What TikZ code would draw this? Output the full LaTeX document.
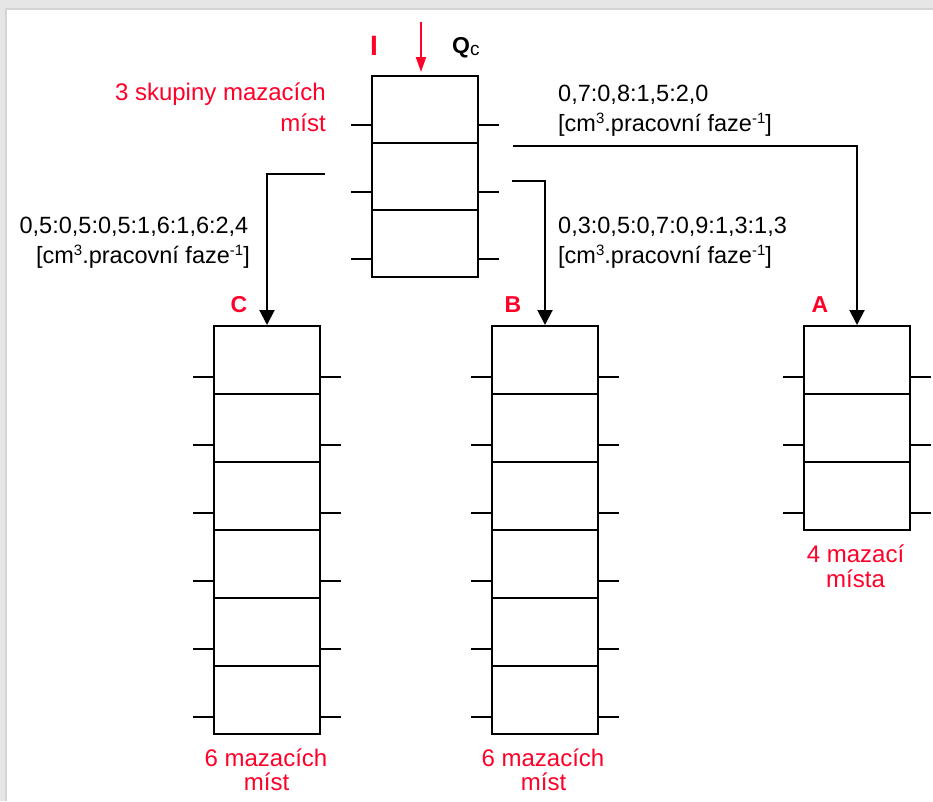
\documentclass[tikz,border=0pt]{standalone}
\usepackage{fontspec}
\setmainfont{Liberation Sans}
\usetikzlibrary{arrows.meta}
\definecolor{lblred}{RGB}{255,0,40}
\definecolor{framegray}{RGB}{230,230,230}
\definecolor{frameedge}{RGB}{212,212,212}
% small raised index (cm^3, faze^-1)
\newcommand\upidx[1]{\raisebox{8.5pt}{\fontsize{15}{15}\selectfont #1}}
\newcommand\unitline{[cm\upidx{3}.pracovní faze\upidx{-1}]}

\begin{document}
\begin{tikzpicture}[x=1pt,y=-1pt,
  cell/.style={draw, line width=2pt, minimum width=106pt, inner sep=0pt},
  tick/.style={line width=2pt},
  feed/.style={line width=2pt, -{Triangle[width=15pt,length=15pt]}},
  redfeed/.style={draw=lblred, line width=2pt, shorten >=3pt,
    -{Triangle[width=10pt,length=15pt]}, lblred},
  txt/.style={inner sep=0pt, font=\fontsize{23.5}{28}\selectfont},
  redtxt/.style={inner sep=0pt, text=lblred, font=\fontsize{24}{28}\selectfont},
  tag/.style={inner sep=0pt, text=lblred, font=\bfseries\fontsize{23}{28}\selectfont},
]
% page frame
\useasboundingbox (0,0) rectangle (933,801);
\fill[framegray] (0,0) rectangle (933,801);
\fill[frameedge] (5,8) rectangle (933,801);
\fill[white] (7,10) rectangle (933,801);

% distributor blocks, one node per cell, with side ticks
% (name / centre x / top / cells / cell height / tick offset below centre)
\foreach \col/\x/\top/\n/\h/\t in {I/425/76/3/67/15.5, C/267/326/6/68/17, B/545/326/6/68/17, A/857/326/3/68/17}{
  \foreach \k in {1,...,\n}{
    \node[cell, minimum height=\h pt] (\col\k) at (\x, {\top + (\k-0.5)*\h}) {};
    \draw[tick] ([yshift=-\t pt]\col\k.west) -- ++(-20,0);
    \draw[tick] ([yshift=-\t pt]\col\k.east) -- ++(20,0);
  }
}

% feed lines to the secondary blocks
\coordinate (outA) at (513,146);
\coordinate (outB) at (512,181);
\coordinate (outC) at (325,174);
\draw[feed] (outA) -| (A1.north);
\draw[feed] (outB) -| (B1.north);
\draw[feed] (outC) -| (C1.north);

% lubricant inlet
\coordinate (qin) at (421,22);
\draw[redfeed] (qin) -- (qin |- I1.north);
\node[inner sep=0pt, text=lblred, font=\bfseries\fontsize{28}{30}\selectfont, anchor=base] (ti) at (374,55) {I};
\node[inner sep=0pt, anchor=base west, font=\bfseries\fontsize{23}{28}\selectfont] (tq) at (452,53)
  {Q\raisebox{-2pt}{\mdseries\fontsize{19}{20}\selectfont c}};

% block labels
\node[tag, anchor=base] (tagC) at (239,312) {C};
\node[tag, anchor=base] (tagB) at (513,312) {B};
\node[tag, anchor=base] (tagA) at (820,312) {A};

% dosing ratios
\node[txt, anchor=base west] (ra1) at (558,101.5) {0,7:0,8:1,5:2,0};
\node[txt, anchor=base west] (ra2) at (558,131.5) {\unitline};
\node[txt, anchor=base west] (rb1) at (558,233.3) {0,3:0,5:0,7:0,9:1,3:1,3};
\node[txt, anchor=base west] (rb2) at (558,263.5) {\unitline};
\node[txt, anchor=base east] (rc1) at (248.5,233.3) {0,5:0,5:0,5:1,6:1,6:2,4};
\node[txt, anchor=base east] (rc2) at (250,263.5) {\unitline};

% numbers of lubrication points
\node[redtxt, anchor=base east] (ni1) at (326,100.7) {3 skupiny mazacích};
\node[redtxt, anchor=base east] (ni2) at (326,131.7) {míst};
\node[redtxt, anchor=base] (nc1) at (266,766) {6 mazacích};
\node[redtxt, anchor=base] (nc2) at (266.5,790) {míst};
\node[redtxt, anchor=base] (nb1) at (543,766) {6 mazacích};
\node[redtxt, anchor=base] (nb2) at (543.5,790) {míst};
\node[redtxt, anchor=base] (na1) at (855.5,562) {4 mazací};
\node[redtxt, anchor=base] (na2) at (855.5,587) {místa};
\end{tikzpicture}
\end{document}
